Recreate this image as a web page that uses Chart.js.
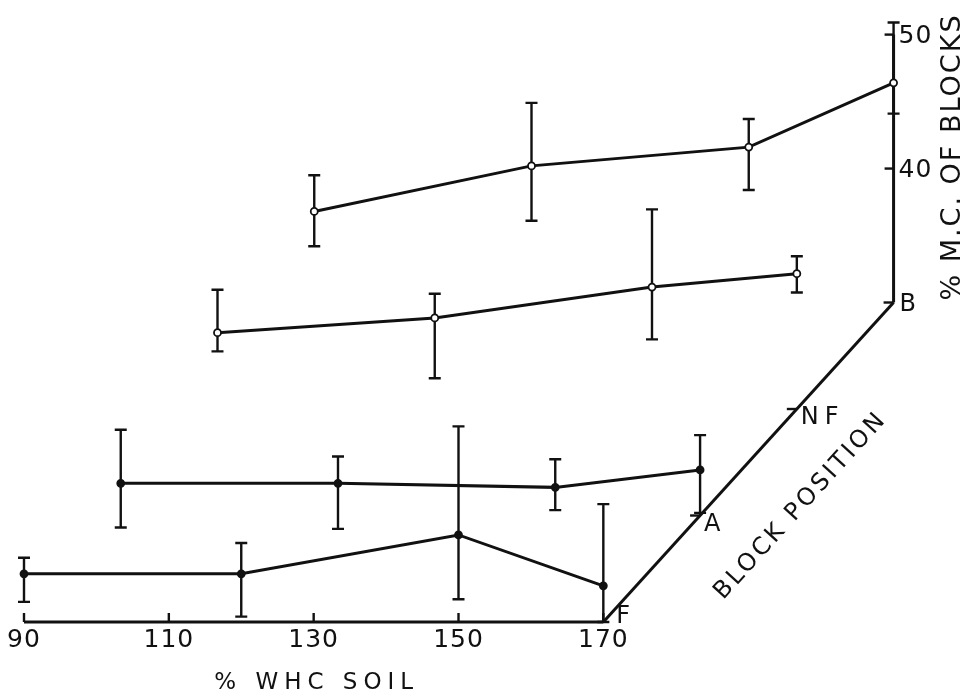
<!DOCTYPE html>
<html>
<head>
<meta charset="utf-8">
<title>% M.C. of blocks vs % WHC soil</title>
<script src="https://cdn.jsdelivr.net/npm/chart.js@4"></script>
<style>
    html, body { margin: 0; padding: 0; background: #fff; }
    #mcChart { display: block; }
</style>
</head>
<body>
<canvas id="mcChart" width="971" height="696"></canvas>
<script>
// --- DATE ---
const whcLevels = [90, 120, 150, 170];          // % WHC soil
const blockPositions = ['F', 'A', 'NF', 'B'];   // block position (axa oblica)
const whcTicks = [90, 110, 130, 150, 170];
const mcTicks = [40, 50];

// % M.C. of blocks, cate o serie pe pozitie
const mcF  = [33.6, 33.6, 36.5, 32.7];
const mcA  = [32.4, 32.4, 32.1, 33.4];
const mcNF = [35.7, 36.8, 39.1, 40.1];
const mcB  = [36.8, 40.2, 41.6, 46.4];

// capetele barelor de eroare
const hiF  = [34.8, 35.9, 44.6, 38.8];
const loF  = [31.5, 30.4, 31.7, 30.0];
const hiA  = [36.4, 34.4, 34.2, 36.0];
const loA  = [29.1, 29.0, 30.4, 30.2];
const hiNF = [38.9, 38.6, 44.9, 41.4];
const loNF = [34.3, 32.3, 35.2, 38.7];
const hiB  = [39.5, 44.9, 43.7, 50.9];
const loB  = [34.2, 36.1, 38.4, 44.1];

// proiectie oblica: cat se deplaseaza fiecare pozitie de bloc (in unitati de axa)
const DEPTH_WHC = 13.36;
const DEPTH_MC = 7.95;
const MC_BASE = 30;

const FONT = '"DejaVu Sans", sans-serif';
const INK = '#111';

const seriesMc = [mcF, mcA, mcNF, mcB];
const seriesHi = [hiF, hiA, hiNF, hiB];
const seriesLo = [loF, loA, loNF, loB];

function project(whc, mc, k) {
    return { x: whc + k * DEPTH_WHC, y: mc + k * DEPTH_MC };
}

document.addEventListener('DOMContentLoaded', function () {
    const ctx = document.getElementById('mcChart').getContext('2d');

    const datasets = blockPositions.map((pos, k) => ({
        label: pos,
        data: whcLevels.map((w, i) => project(w, seriesMc[k][i], k)),
        showLine: true,
        borderColor: INK,
        borderWidth: 3,
        pointRadius: 3.5,
        pointBorderWidth: 1.8,
        pointBorderColor: INK,
        pointBackgroundColor: k < 2 ? INK : '#fff',
        tension: 0,
        clip: false
    }));

    // bare de eroare + axele desenate pe scalele graficului
    const obliqueAxes = {
        id: 'obliqueAxes',
        beforeDatasetsDraw(chart) {
            const c = chart.ctx;
            const xs = chart.scales.x;
            const ys = chart.scales.y;
            const px = (p) => ({ x: xs.getPixelForValue(p.x), y: ys.getPixelForValue(p.y) });

            c.save();
            c.strokeStyle = INK;
            c.fillStyle = INK;
            c.lineCap = 'butt';

            // bare de eroare
            c.lineWidth = 2.4;
            blockPositions.forEach((pos, k) => {
                whcLevels.forEach((w, i) => {
                    const top = px(project(w, seriesHi[k][i], k));
                    const bot = px(project(w, seriesLo[k][i], k));
                    c.beginPath();
                    c.moveTo(top.x, top.y); c.lineTo(bot.x, bot.y);
                    c.moveTo(top.x - 6, top.y); c.lineTo(top.x + 6, top.y);
                    c.moveTo(bot.x - 6, bot.y); c.lineTo(bot.x + 6, bot.y);
                    c.stroke();
                });
            });

            // axa WHC (orizontala, pozitia F)
            c.lineWidth = 3;
            const x0 = px(project(whcTicks[0], MC_BASE, 0));
            const x1 = px(project(whcTicks[whcTicks.length - 1], MC_BASE, 0));
            c.beginPath();
            c.moveTo(x0.x, x0.y); c.lineTo(x1.x, x1.y);
            c.stroke();

            c.font = '25px ' + FONT;
            c.textAlign = 'center';
            c.textBaseline = 'middle';
            c.lineWidth = 2.4;
            whcTicks.forEach(t => {
                const p = px(project(t, MC_BASE, 0));
                c.beginPath();
                c.moveTo(p.x, p.y); c.lineTo(p.x, p.y - 9);
                c.stroke();
                c.save();
                c.letterSpacing = '1px';
                c.fillText(String(t), p.x, p.y + 18);
                c.restore();
            });

            // axa oblica (pozitia blocului)
            const last = blockPositions.length - 1;
            const endWhc = whcTicks[whcTicks.length - 1];
            const d0 = px(project(endWhc, MC_BASE, 0));
            const d1 = px(project(endWhc, MC_BASE, last));
            c.lineWidth = 3;
            c.beginPath();
            c.moveTo(d0.x, d0.y); c.lineTo(d1.x, d1.y);
            c.stroke();

            c.textAlign = 'left';
            c.lineWidth = 2.4;
            c.font = '24px ' + FONT;
            blockPositions.forEach((pos, k) => {
                const p = px(project(endWhc, MC_BASE, k));
                if (k > 0) {
                    c.beginPath();
                    c.moveTo(p.x, p.y); c.lineTo(p.x - 10, p.y);
                    c.stroke();
                }
                c.save();
                c.letterSpacing = pos.length > 1 ? '6px' : '0px';
                const off = k === 0 ? { x: 13, y: -5 } : (k === last ? { x: 6, y: 2 } : { x: 4, y: 9 });
                c.fillText(pos, p.x + off.x, p.y + off.y);
                c.restore();
            });

            // axa verticala % M.C. (la pozitia B)
            const vTop = px(project(endWhc, mcTicks[mcTicks.length - 1], last));
            c.lineWidth = 3;
            c.beginPath();
            c.moveTo(d1.x, d1.y); c.lineTo(vTop.x, vTop.y);
            c.stroke();
            c.lineWidth = 2.4;
            c.font = '25px ' + FONT;
            mcTicks.forEach(t => {
                const p = px(project(endWhc, t, last));
                c.beginPath();
                c.moveTo(p.x, p.y); c.lineTo(p.x - 9, p.y);
                c.stroke();
                c.save();
                c.letterSpacing = '1px';
                c.fillText(String(t), p.x + 5, p.y + 2);
                c.restore();
            });

            // titluri
            c.textAlign = 'center';
            c.save();
            c.font = '23px ' + FONT;
            c.letterSpacing = '6px';
            const tx = px(project(130, MC_BASE, 0));
            c.fillText('% WHC SOIL', tx.x + 3, 683);
            c.restore();

            const mid = px(project(endWhc, MC_BASE, 1.5));
            c.save();
            c.translate(mid.x + 51, mid.y + 45);
            c.rotate(Math.atan2(d1.y - d0.y, d1.x - d0.x));
            c.font = '24px ' + FONT;
            c.letterSpacing = '3px';
            c.fillText('BLOCK POSITION', 2, 0);
            c.restore();

            c.save();
            c.translate(953, 158);
            c.rotate(-Math.PI / 2);
            c.font = '27px ' + FONT;
            c.letterSpacing = '2px';
            c.fillText('% M.C. OF BLOCKS', 1, 0);
            c.restore();

            c.restore();
        }
    };

    new Chart(ctx, {
        type: 'scatter',
        data: { datasets: datasets },
        options: {
            responsive: false,
            animation: false,
            layout: { padding: { left: 24, right: 78, top: 1, bottom: 74 } },
            scales: {
                x: { type: 'linear', min: 90, max: 210, display: false },
                y: { type: 'linear', min: MC_BASE, max: 76, display: false }
            },
            plugins: {
                legend: { display: false },
                tooltip: { enabled: false }
            }
        },
        plugins: [obliqueAxes]
    });
});
</script>
</body>
</html>
